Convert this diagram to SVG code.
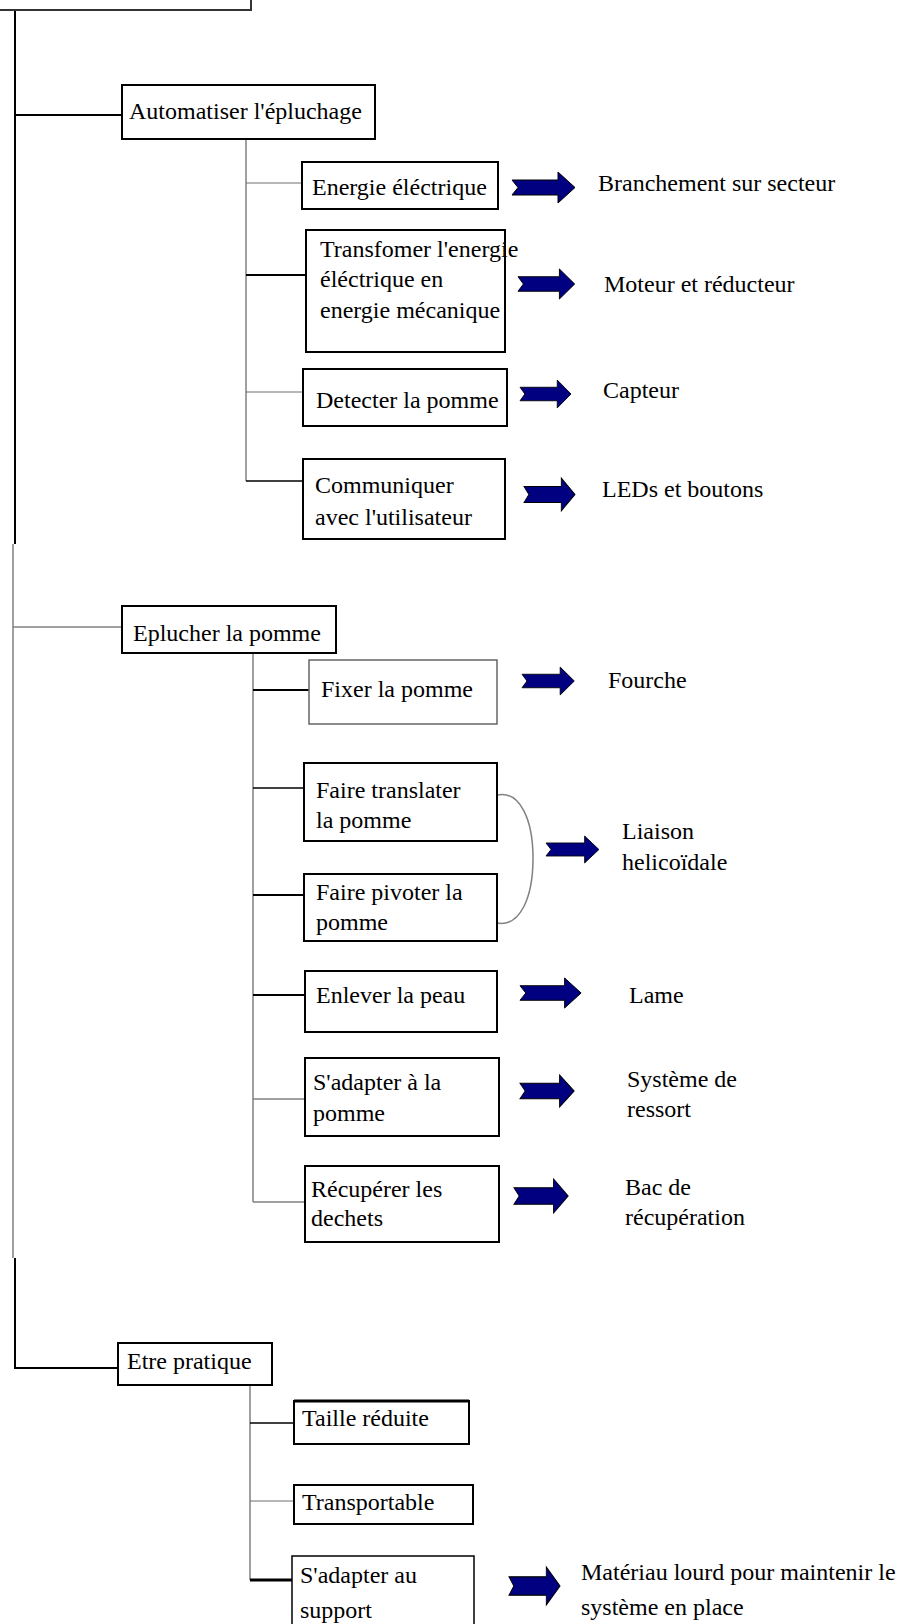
<svg xmlns="http://www.w3.org/2000/svg" width="906" height="1624" viewBox="0 0 906 1624">
<style>
.bg{fill:#fff}
.box{fill:#fff;stroke:#000;stroke-width:2}
.boxg{fill:#fff;stroke:#666;stroke-width:1.5}
.t{font-family:"Liberation Serif","Times New Roman",serif;font-size:24px;fill:#000}
.lk{fill:none;stroke:#000;stroke-width:2}
.lk1{fill:none;stroke:#000;stroke-width:1.3}
.lg{fill:none;stroke:#808080;stroke-width:1.5}
.lg1{fill:none;stroke:#6e6e6e;stroke-width:1}
.arr{fill:#000080;stroke:#000;stroke-width:1}
</style>
<defs>
<path id="ar" class="arr" d="M0,-7.5 H46 V-15.5 L63,0 L46,15.5 V7.5 H0 L6,0 Z"/>
</defs>
<rect class="bg" x="0" y="0" width="906" height="1624"/>
<g id="connectors">
<path class="lk" d="M15,10 V544"/>
<path class="lg" d="M13,544 V1258"/>
<path class="lk" d="M15,1258 V1368 H118"/>
<path class="lk" d="M15,115 H122"/>
<path class="lg" d="M246,139 V481"/>
<path class="lg1" d="M246,183 H302"/>
<path class="lk" d="M246,275 H306"/>
<path class="lg1" d="M246,392 H303"/>
<path class="lk1" d="M246,481 H303"/>
<path class="lg" d="M13,627 H122"/>
<path class="lg" d="M253,653 V1202"/>
<path class="lk" d="M253,690 H309"/>
<path class="lk1" d="M253,788 H304"/>
<path class="lk" d="M253,895 H304"/>
<path class="lk" d="M253,995 H305"/>
<path class="lg" d="M253,1099 H305"/>
<path class="lg" d="M253,1202 H305"/>
<path class="lg" d="M250,1385 V1580"/>
<path class="lk1" d="M250,1423 H294"/>
<path class="lg1" d="M250,1501 H294"/>
<path class="lk" style="stroke-width:3" d="M250,1580 H292"/>
<path class="lg" d="M497,795 C520,790 533,820 533,858 C533,898 520,927 497,923"/>
<use href="#ar" transform="translate(512,187.5) scale(1,1)"/>
<use href="#ar" transform="translate(518,284) scale(0.9,0.97)"/>
<use href="#ar" transform="translate(520,394) scale(0.81,0.9)"/>
<use href="#ar" transform="translate(524,494.5) scale(0.81,1.06)"/>
<use href="#ar" transform="translate(522,681) scale(0.83,0.9)"/>
<use href="#ar" transform="translate(546,849.5) scale(0.84,0.87)"/>
<use href="#ar" transform="translate(520,993) scale(0.97,0.97)"/>
<use href="#ar" transform="translate(520,1091) scale(0.86,1.03)"/>
<use href="#ar" transform="translate(514,1196) scale(0.86,1.1)"/>
<use href="#ar" transform="translate(509,1586) scale(0.81,1.23)"/>
</g>
<g id="n_top"><rect class="box" style="stroke:#333" x="-2" y="-2" width="253" height="12"/></g>
<g id="n_auto"><rect class="box" x="122" y="85" width="253" height="54"/><text class="t" x="129" y="119">Automatiser l'épluchage</text></g>
<g id="n_energie"><rect class="box" x="302" y="162" width="196" height="47"/><text class="t" x="312" y="195">Energie éléctrique</text></g>
<g id="r_energie"><text class="t" x="598" y="191">Branchement sur secteur</text></g>
<g id="n_transf"><rect class="box" x="306" y="230" width="199" height="122"/><text class="t" x="320" y="257">Transfomer l'energie</text><text class="t" x="320" y="287">éléctrique en</text><text class="t" x="320" y="318">energie mécanique</text></g>
<g id="r_transf"><text class="t" x="604" y="292">Moteur et réducteur</text></g>
<g id="n_detect"><rect class="box" x="303" y="369" width="204" height="57"/><text class="t" x="316" y="408">Detecter la pomme</text></g>
<g id="r_detect"><text class="t" x="603" y="398">Capteur</text></g>
<g id="n_comm"><rect class="box" x="303" y="459" width="202" height="80"/><text class="t" x="315" y="493">Communiquer</text><text class="t" x="315" y="525">avec l'utilisateur</text></g>
<g id="r_comm"><text class="t" x="602" y="497">LEDs et boutons</text></g>
<g id="n_eplucher"><rect class="box" x="122" y="606" width="214" height="47"/><text class="t" x="133" y="641">Eplucher la pomme</text></g>
<g id="n_fixer"><rect class="boxg" x="309" y="660" width="188" height="64"/><text class="t" x="321" y="697">Fixer la pomme</text></g>
<g id="r_fixer"><text class="t" x="608" y="688">Fourche</text></g>
<g id="n_transl"><rect class="box" x="304" y="763" width="193" height="78"/><text class="t" x="316" y="798">Faire translater</text><text class="t" x="316" y="828">la pomme</text></g>
<g id="n_pivot"><rect class="box" x="304" y="874" width="193" height="67"/><text class="t" x="316" y="900">Faire pivoter la</text><text class="t" x="316" y="930">pomme</text></g>
<g id="r_liaison"><text class="t" x="622" y="839">Liaison</text><text class="t" x="622" y="870">helicoïdale</text></g>
<g id="n_enlever"><rect class="box" x="305" y="971" width="192" height="61"/><text class="t" x="316" y="1003">Enlever la peau</text></g>
<g id="r_enlever"><text class="t" x="629" y="1003">Lame</text></g>
<g id="n_adapt"><rect class="box" x="305" y="1058" width="194" height="78"/><text class="t" x="313" y="1090">S'adapter à la</text><text class="t" x="313" y="1121">pomme</text></g>
<g id="r_adapt"><text class="t" x="627" y="1087">Système de</text><text class="t" x="627" y="1117">ressort</text></g>
<g id="n_recup"><rect class="box" x="305" y="1166" width="194" height="76"/><text class="t" x="311" y="1197">Récupérer les</text><text class="t" x="311" y="1226">dechets</text></g>
<g id="r_recup"><text class="t" x="625" y="1195">Bac de</text><text class="t" x="625" y="1225">récupération</text></g>
<g id="n_pratique"><rect class="box" x="118" y="1343" width="154" height="42"/><text class="t" x="127" y="1369">Etre pratique</text></g>
<g id="n_taille"><rect class="box" x="294" y="1401" width="175" height="43"/><path class="lk" style="stroke-width:3" d="M294,1401 H469"/><text class="t" x="302" y="1426">Taille réduite</text></g>
<g id="n_transp"><rect class="box" x="294" y="1485" width="179" height="39"/><text class="t" x="302" y="1510">Transportable</text></g>
<g id="n_support"><rect class="box" style="stroke-width:1.5" x="292" y="1556" width="182" height="80"/><text class="t" x="300" y="1583">S'adapter au</text><text class="t" x="300" y="1618">support</text></g>
<g id="r_support"><text class="t" x="581" y="1580">Matériau lourd pour maintenir le</text><text class="t" x="581" y="1615">système en place</text></g>
</svg>
